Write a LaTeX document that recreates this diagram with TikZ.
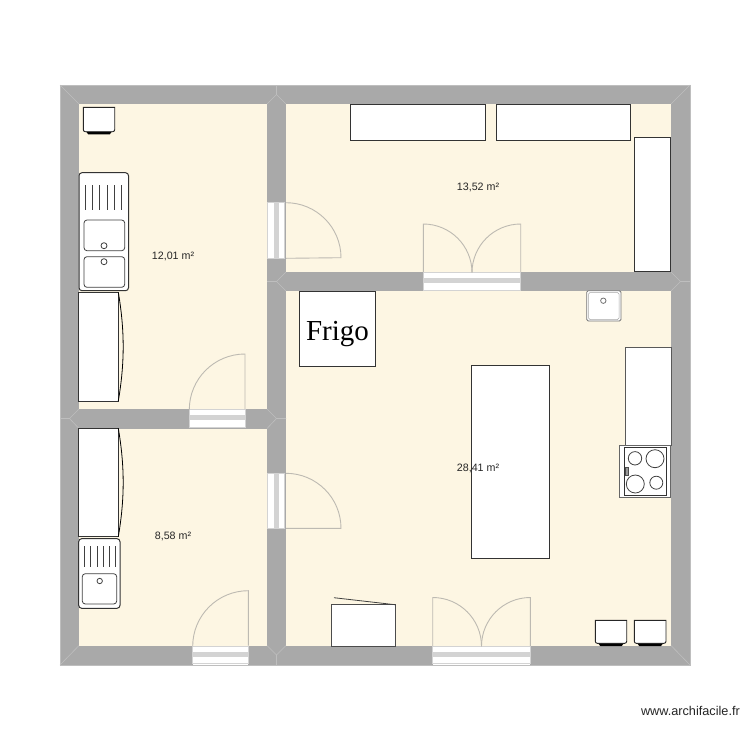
\documentclass[tikz,border=0pt]{standalone}
\usepackage{fontspec}
\setmainfont{Liberation Sans}
\newfontfamily\frigofont{Liberation Serif}
\definecolor{wallgrey}{HTML}{A9A9A9}
\definecolor{roomcream}{HTML}{FDF6E3}
\definecolor{jointgrey}{HTML}{BEBEBE}
\definecolor{doorgrey}{HTML}{BDBAB2}
\definecolor{stripegrey}{HTML}{D3D3D3}
\tikzset{
  wall/.style={fill=wallgrey,draw=jointgrey,line width=0.6pt},
  room/.style={fill=roomcream,draw=none},
  joint/.style={draw=jointgrey,line width=0.6pt},
  leaf/.style={draw=doorgrey,line width=0.9pt},
  opening/.style={fill=white,draw=stripegrey,line width=0.8pt},
  stripe/.style={fill=stripegrey,draw=none},
  furn/.style={fill=white,draw=black!80,line width=1pt},
  sinkline/.style={draw=black!75,line width=0.8pt},
  fixture/.style={fill=white,draw=black!55,line width=0.8pt},
  area/.style={font=\fontsize{10.7}{12}\selectfont,text=black!85,inner sep=0pt},
}
% opening in a horizontal wall: x1 x2 y1 y2
\newcommand{\hopening}[4]{%
  \fill[white] (#1,#3) rectangle (#2,#4);
  \draw[opening] (#1,#3+0.5) rectangle (#2,#4-1);
  \path[stripe] (#1,#3+6) rectangle (#2,#3+10.5);
}
% opening in a vertical wall: y1 y2 x1 x2
\newcommand{\vopening}[4]{%
  \draw[opening] (#3+0.5,#1) rectangle (#4-0.5,#2);
  \path[stripe] (#3+6.5,#1) rectangle (#3+11.5,#2);
}
% wall-mounted cabinet with a bowed door
\newcommand{\bowcabinet}[4]{%
  \draw[furn] (#1,#2) rectangle (#3,#4);
  \draw[black,line width=0.8pt] (#3,#2) .. controls (#3+6.5,{#2+(#4-#2)*0.35}) and (#3+6.5,{#2+(#4-#2)*0.65}) .. (#3,#4);
}
% small appliance with a black foot
\newcommand{\appliance}[4]{%
  \fill[black] (#1+2,#4-1) -- (#3-2,#4-1) -- (#3-5,#4+2.7) -- (#1+5,#4+2.7) -- cycle;
  \draw[fill=white,draw=black!85,line width=0.9pt] (#1,#2) -- (#3,#2) -- (#3,#4-2) [rounded corners=2pt] -- (#3,#4) -- (#1,#4) [sharp corners] -- (#1,#4-2) -- cycle;
}
\begin{document}
\begin{tikzpicture}[x=1pt,y=-1pt]
\useasboundingbox (0,0) rectangle (750,750);
\fill[white] (0,0) rectangle (750,750);

% walls and rooms
\draw[wall] (60,85) rectangle (690,665);
\path[room] (79,104) rectangle (267,409);
\path[room] (79,428.5) rectangle (267,645.5);
\path[room] (286,104) rectangle (671,272);
\path[room] (286,291) rectangle (671,645.5);

% wall joints
\draw[joint] (60,85) -- (79,104);
\draw[joint] (690,85) -- (671,104);
\draw[joint] (60,665) -- (79,645.5);
\draw[joint] (690,665) -- (671,645.5);
\draw[joint] (267,104) -- (276.5,94.5) -- (286,104) (276.5,94.5) -- (276.5,85);
\draw[joint] (267,645.5) -- (276.5,655) -- (286,645.5) (276.5,655) -- (276.5,665);
\draw[joint] (79,409) -- (69.5,418.5) -- (79,428.5) (69.5,418.5) -- (60,418.5);
\draw[joint] (267,409) -- (276.5,418.5) -- (267,428.5) (276.5,418.5) -- (286,418.5);
\draw[joint] (286,272) -- (276.5,281.5) -- (286,291) (276.5,281.5) -- (267,281.5);
\draw[joint] (671,272) -- (680.5,281.5) -- (671,291) (680.5,281.5) -- (690,281.5);

% doors (angles run clockwise on screen because the y axis points down)
\vopening{202.7}{258.3}{267.3}{285}
\draw[leaf] (286,202.7) arc[start angle=270,end angle=360,radius=55] -- (286,258.3);
\vopening{473.3}{528.3}{267.3}{285}
\draw[leaf] (286,473.3) arc[start angle=270,end angle=360,radius=55] -- (286,528.3);
\hopening{189.3}{245}{409}{428}
\draw[leaf] (245,409) -- (245,354) arc[start angle=270,end angle=180,radius=55.7];
\hopening{192.7}{248.3}{646}{664.5}
\draw[leaf] (248.3,645.5) -- (248.3,590.7) arc[start angle=270,end angle=180,radius=55.6];
\hopening{423.3}{520.7}{272}{291}
\draw[leaf] (423.3,272) -- (423.3,224) arc[start angle=270,end angle=360,radius=48.7];
\draw[leaf] (520.7,272) -- (520.7,224) arc[start angle=270,end angle=180,radius=48.7];
\hopening{432.7}{530.3}{646}{664.5}
\draw[leaf] (432.7,646) -- (432.7,597.5) arc[start angle=270,end angle=360,radius=48.8];
\draw[leaf] (530.3,646) -- (530.3,597.5) arc[start angle=270,end angle=180,radius=48.8];

% top-left appliance
\appliance{83.3}{107.3}{114.7}{131.7}

% double sink
\draw[furn,rounded corners=3pt] (79,172.7) rectangle (128.5,290.7);
\foreach \lx in {85.3,92.5,99.7,106.9,114.1,121.3}
  \draw[sinkline] (\lx,185) -- (\lx,210);
\draw[sinkline,rounded corners=3pt] (84,220) rectangle (124.7,250.7);
\draw[sinkline,rounded corners=3pt] (84,256.7) rectangle (124.7,287.3);
\draw[sinkline] (104,245.7) circle[radius=3];
\draw[sinkline] (104,261.7) circle[radius=3];

% cabinets with bowed doors
\bowcabinet{78.7}{292.3}{118.3}{401}
\bowcabinet{78.7}{428.3}{118.3}{536.7}

% single sink
\draw[furn,rounded corners=3pt] (78.7,538.7) rectangle (120,608.3);
\foreach \lx in {84.3,90.6,96.9,103.2,109.5,115.7}
  \draw[sinkline] (\lx,546) -- (\lx,566.7);
\draw[sinkline,rounded corners=3pt] (82.3,573.7) rectangle (116.7,604);
\draw[sinkline] (99.7,581) circle[radius=2.7];

% top benches
\draw[furn] (350.5,104.5) rectangle (485,140);
\draw[furn] (496.5,104.5) rectangle (630,140);
\draw[furn] (634,137) rectangle (670,271);

% fridge
\draw[furn] (299.3,291) rectangle (375.7,366.3);
\node[inner sep=0pt,font=\frigofont\fontsize{29}{32}\selectfont] (frigo) at (337.5,334.5) {Frigo};

% island
\draw[furn,line width=0.9pt] (471,365) rectangle (549,558);

% corner sink
\draw[fixture,rounded corners=1.5pt] (586.7,290.7) rectangle (621,321);
\draw[draw=black!35,line width=0.5pt,rounded corners=1.5pt] (588.5,292.5) rectangle (619,319.5);
\draw[fixture] (603.3,300.7) circle[radius=2.7];

% right cabinet
\draw[fill=white,draw=black!65,line width=1pt] (625.7,347.3) rectangle (671,445);

% cooktop
\draw[fixture,draw=black!60] (619,445.7) rectangle (670.3,497.3);
\draw[furn,line width=0.8pt] (624,447) rectangle (666.7,495.7);
\draw[sinkline] (635,458.3) circle[radius=6.7];
\draw[sinkline] (655,458.7) circle[radius=9];
\draw[sinkline] (635.3,484) circle[radius=9];
\draw[sinkline] (656.3,482.7) circle[radius=6.5];
\draw[fill=black!40,draw=black!70,line width=0.5pt] (625,467) rectangle (628,475.7);

% desk
\draw[furn,draw=black!70] (331.3,604.7) rectangle (395,646.3);
\draw[draw=black!75,line width=0.8pt] (334,597.7) -- (395,604.7);

% bottom-right appliances
\appliance{595.3}{620.3}{626.7}{643.3}
\appliance{634.3}{620.3}{666}{643.3}

% labels
\node[area] (a1) at (173,256) {12,01 m²};
\node[area] (a2) at (478,187) {13,52 m²};
\node[area] (a3) at (478,468) {28,41 m²};
\node[area] (a4) at (173,536) {8,58 m²};
\node[inner sep=0pt,font=\fontsize{12.7}{14}\selectfont,text=black!85,anchor=east] (site) at (740,711) {www.archifacile.fr};
\end{tikzpicture}
\end{document}
